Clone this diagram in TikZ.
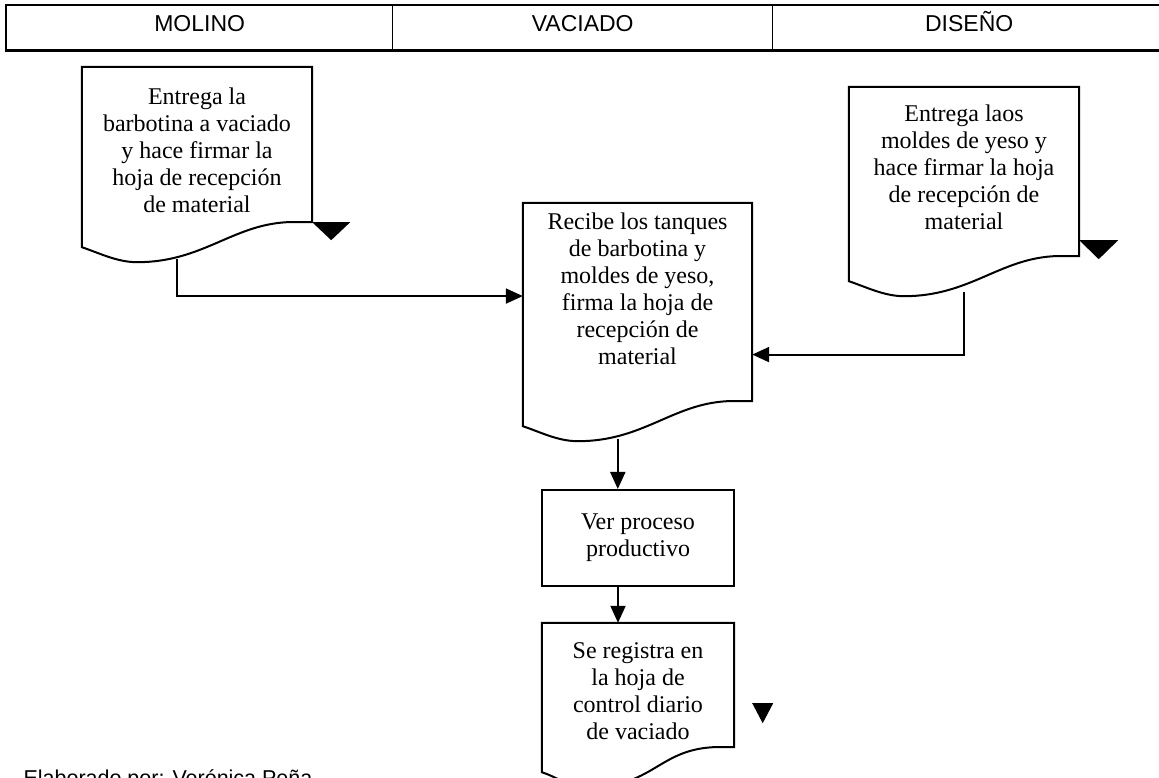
\documentclass[tikz,border=0pt]{standalone}
\usepackage{fontspec}
\setmainfont{Liberation Serif}
\newfontfamily\lanefont{Liberation Sans}
\usetikzlibrary{calc,arrows.meta}
\tikzset{
  lane/.style     = {shape=rectangle, draw, line width=1.4pt,
                     anchor=north west, minimum height=44pt,
                     text height=17pt, text depth=10pt, inner sep=0pt,
                     font=\lanefont\fontsize{23}{27}\selectfont},
  docnode/.style  = {shape=rectangle, align=center, inner sep=0pt,
                     font=\fontsize{24}{27}\selectfont},
  procnode/.style = {docnode, draw, line width=2pt},
  docline/.style  = {line width=2pt, line join=miter},
  flow/.style     = {-{Triangle[length=17pt,width=15pt]}, line width=2pt},
}
% document symbol: straight top and sides, wavy bottom edge;
% optional arg stretches the sides below the text node
\newcommand{\docoutline}[2][0]{%
  \coordinate (#2-se) at ($(#2.south east)+(0,{-(#1)})$);
  \coordinate (#2-sw) at ($(#2.south west)+(0,{-(#1)})$);
  \draw[docline] (#2-se)
    -- ($(#2-sw)!0.89!(#2-se)$)
    .. controls +(-55,-3) and +(65,0) .. ($(#2-sw)!0.24!(#2-se)+(0,-40)$)
    .. controls +(-20,0) and +(18,-6) .. ([yshift=-25pt]#2-sw)
    -- (#2.north west) -- (#2.north east) -- cycle;
}

\begin{document}
\begin{tikzpicture}[x=1pt,y=1pt]
  \useasboundingbox (0,0) rectangle (1159,777);

  % swimlane header
  \node[lane, minimum width=386pt] (molino)   at (6,772)   {MOLINO};
  \node[lane, minimum width=380pt] (vaciado)  at (392,772) {VACIADO};
  \node[lane, minimum width=393pt] (diseno)   at (772,772) {DISEÑO};
  \draw[line width=2.6pt] (molino.north west) rectangle (diseno.south east);

  % steps
  \node[docnode, minimum width=230pt, minimum height=167pt] (barbotina) at (197,626.5)
    {Entrega la\\barbotina a vaciado\\y hace firmar la\\hoja de recepción\\de material};
  \node[docnode, minimum width=230pt, minimum height=161pt] (moldes) at (964,609.5)
    {Entrega laos\\moldes de yeso y\\hace firmar la hoja\\de recepción de\\material};
  \node[docnode, minimum width=229pt, minimum height=172pt] (recibe) at (637.5,488)
    {Recibe los tanques\\de barbotina y\\moldes de yeso,\\firma la hoja de\\recepción de\\material};
  \node[procnode, minimum width=192pt, minimum height=96pt] (proceso) at (638,239)
    {Ver proceso\\productivo};
  \node[docnode, minimum width=192pt, minimum height=136pt] (registro) at (638,86)
    {Se registra en\\la hoja de\\control diario\\de vaciado};

  \docoutline[-12]{barbotina}
  \docoutline[8]{moldes}
  \docoutline[26]{recibe}
  \docoutline[-12]{registro}

  % archive marks
  \fill (barbotina-se) -- ++(38,0) -- ++(-19,-18) -- cycle;
  \fill ([yshift=16pt]moldes-se) -- ++(39,0) -- ++(-19.5,-19) -- cycle;
  \fill ($(registro-se)+(18,44)$) -- ++(21,0) -- ++(-10.5,-20) -- cycle;

  % connectors
  \coordinate (barbotina-out) at ($(barbotina-sw)+(95,-37)$);
  \coordinate (moldes-out)    at ($(moldes-sw)+(115,-36)$);
  \coordinate (recibe-out)    at ($(recibe-sw)+(95,-38)$);
  \draw[flow] (barbotina-out) |- ($(recibe.north west)!0.47!(recibe-sw)$);
  \draw[flow] (moldes-out) |- ($(recibe.north east)!0.765!(recibe-se)$);
  \draw[flow] (recibe-out) -- (recibe-out |- proceso.north);
  \draw[flow] ([xshift=-20pt]proceso.south) -- ([xshift=-20pt]registro.north);

  \node[anchor=base west, font=\lanefont\fontsize{21.5}{24}\selectfont] (autor) at (20,-8)
    {Elaborado por: Verónica Peña};
\end{tikzpicture}
\end{document}
